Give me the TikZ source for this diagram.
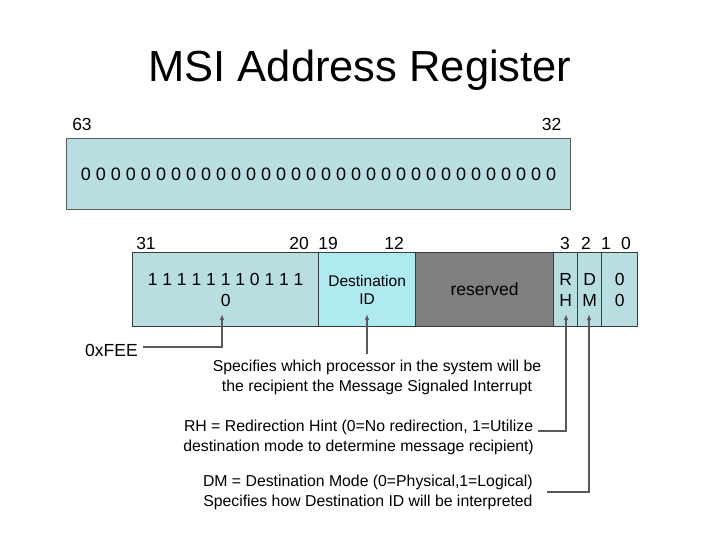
\documentclass[tikz,border=0pt]{standalone}
\usepackage{fontspec}
\setmainfont{Liberation Sans}
\usetikzlibrary{arrows.meta}
\definecolor{regblue}{RGB}{185,222,226}
\definecolor{regcyan}{RGB}{174,234,240}
\definecolor{reggrey}{RGB}{128,128,128}
\definecolor{edgec}{RGB}{55,60,62}
\definecolor{linec}{RGB}{90,90,90}
\tikzset{
  field/.style={draw=edgec, line width=1.3pt, anchor=north west, inner sep=0pt, align=center, font=\fontsize{17.5}{21}\selectfont},
  bitlbl/.style={font=\fontsize{17.5}{21}\selectfont, inner sep=0pt, anchor=base},
  note/.style={font=\fontsize{15.8}{20}\selectfont, inner sep=0pt, align=center},
  conn/.style={draw=linec, line width=1.3pt, -{Latex[length=6pt,width=4.5pt]}},
}
\begin{document}
\begin{tikzpicture}[x=1pt,y=-1pt]
\useasboundingbox (0,0) rectangle (720,540);
% title
\node[font=\fontsize{43.5}{50}\selectfont, anchor=base, inner sep=0pt] (title) at (360,82) {MSI Address Register};
% upper register
\node[field, fill=regblue, draw=linec, minimum width=504pt, minimum height=71pt, font=\fontsize{18}{21}\selectfont] (hi) at (66,138) {0 0 0 0 0 0 0 0 0 0 0 0 0 0 0 0 0 0 0 0 0 0 0 0 0 0 0 0 0 0 0 0};
\node[bitlbl] (b63) at (82,131) {63};
\node[bitlbl] (b32) at (551.5,131) {32};
% lower register
\node[field, fill=regblue, minimum width=186pt, minimum height=74pt] (f1) at (132,252) {1 1 1 1 1 1 1 0 1 1 1\\0};
\node[field, fill=regcyan, minimum width=97pt, minimum height=74pt, font=\fontsize{15.5}{18.5}\selectfont] (f2) at (318,252) {Destination\\ID};
\node[field, fill=reggrey, minimum width=138pt, minimum height=74pt] (f3) at (415,252) {reserved};
\node[field, fill=regblue, minimum width=24pt, minimum height=74pt] (f4) at (553,252) {R\\H};
\node[field, fill=regblue, minimum width=24pt, minimum height=74pt] (f5) at (577,252) {D\\M};
\node[field, fill=regblue, minimum width=36pt, minimum height=74pt] (f6) at (601,252) {0\\0};
% bit numbers
\node[bitlbl] (b31) at (146,249) {31};
\node[bitlbl] (b20) at (299,249) {20};
\node[bitlbl] (b19) at (328,249) {19};
\node[bitlbl] (b12) at (394,249) {12};
\node[bitlbl] (b3) at (565,249) {3};
\node[bitlbl] (b2) at (586,249) {2};
\node[bitlbl] (b1) at (606,249) {1};
\node[bitlbl] (b0) at (626,249) {0};
% annotations
\node[note, font=\fontsize{17.5}{20}\selectfont, anchor=west] (fee) at (85,350) {0xFEE};
\node[note] (dest) at (377,377) {Specifies which processor in the system will be\\the recipient the Message Signaled Interrupt};
\node[note, anchor=east] (rh) at (534,437) {RH = Redirection Hint (0=No redirection, 1=Utilize\\destination mode to determine message recipient)};
\node[note, anchor=east] (dm) at (533,492) {DM = Destination Mode (0=Physical,1=Logical)\\Specifies how Destination ID will be interpreted};
% connector points
\coordinate (t1) at (222,314);
\coordinate (t2) at (367,314);
\coordinate (t4) at (566,314);
\coordinate (t5) at (589,314);
\coordinate (s1) at (143,347);
\coordinate (s2) at (367,354);
\coordinate (s4) at (538,431);
\coordinate (s5) at (547,492);
\draw[conn] (s1) -| (t1);
\draw[conn] (s2) -- (t2);
\draw[conn] (s4) -| (t4);
\draw[conn] (s5) -| (t5);
\end{tikzpicture}
\end{document}
